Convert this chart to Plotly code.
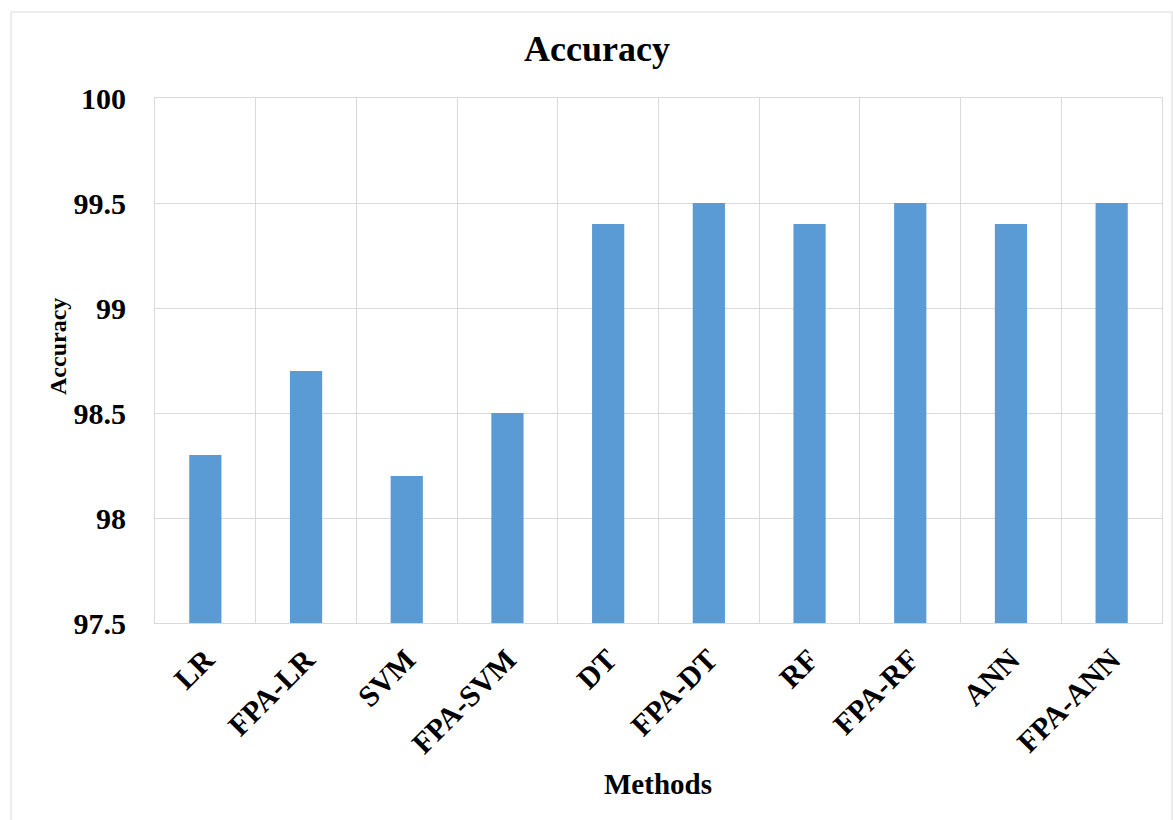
import plotly.graph_objects as go

# Classification accuracy per method
methods = ["LR", "FPA-LR", "SVM", "FPA-SVM", "DT", "FPA-DT", "RF", "FPA-RF", "ANN", "FPA-ANN"]
accuracy = [98.3, 98.7, 98.2, 98.5, 99.4, 99.5, 99.4, 99.5, 99.4, 99.5]
y_ticks = [97.5, 98, 98.5, 99, 99.5, 100]
y_tick_text = ["97.5", "98", "98.5", "99", "99.5", "100"]

FONT = "Liberation Serif, Times New Roman, serif"
GRID = "#d9d9d9"
BAR = "#5b9bd5"

W, H = 1173, 820
L, R, T, B = 155, 11, 98, 197
pw, ph = W - L - R, H - T - B

fig = go.Figure(
    go.Bar(
        x=methods,
        y=accuracy,
        marker=dict(color=BAR, line=dict(width=0)),
    )
)

fig.update_layout(
    width=W,
    height=H,
    margin=dict(l=L, r=R, t=T, b=B, pad=0),
    paper_bgcolor="white",
    plot_bgcolor="white",
    bargap=0.68,
    showlegend=False,
    font=dict(family=FONT, color="black"),
    title=dict(
        text="<b>Accuracy</b>",
        font=dict(family=FONT, size=36, color="black"),
        x=597 / W,
        xref="container",
        xanchor="center",
        y=1 - 48 / H,
        yref="container",
        yanchor="middle",
    ),
)

fig.update_xaxes(
    type="category",
    tickson="boundaries",
    showgrid=True,
    gridcolor=GRID,
    gridwidth=1,
    showline=True,
    linecolor=GRID,
    linewidth=1,
    mirror=True,
    ticks="",
    tickangle=-45,
    tickfont=dict(family=FONT, size=30, color="black"),
    ticklabelstandoff=6,
    tickprefix="<b>",
    ticksuffix="</b>",
)

fig.update_yaxes(
    range=[97.5, 100],
    tickvals=y_ticks,
    ticktext=["<b>" + t + "</b>" for t in y_tick_text],
    showgrid=True,
    gridcolor=GRID,
    gridwidth=1,
    zeroline=False,
    showline=True,
    linecolor=GRID,
    linewidth=1,
    mirror=True,
    ticks="",
    tickfont=dict(family=FONT, size=30, color="black"),
    ticklabelstandoff=22,
)

# Axis titles
fig.add_annotation(
    text="<b>Accuracy</b>",
    xref="paper", yref="paper",
    x=(58 - L) / pw, y=(T + ph - 347) / ph,
    textangle=-90,
    showarrow=False,
    xanchor="center", yanchor="middle",
    font=dict(family=FONT, size=24, color="black"),
)
fig.add_annotation(
    text="<b>Methods</b>",
    xref="paper", yref="paper",
    x=(658 - L) / pw, y=(T + ph - 784) / ph,
    showarrow=False,
    xanchor="center", yanchor="middle",
    font=dict(family=FONT, size=29, color="black"),
)

# Chart frame
fig.add_shape(
    type="rect",
    xref="paper", yref="paper",
    x0=(11 - L) / pw, x1=(1172 - L) / pw,
    y0=(T + ph - 840) / ph, y1=(T + ph - 12) / ph,
    line=dict(color=GRID, width=1),
    fillcolor="rgba(0,0,0,0)",
    layer="below",
)

fig.write_html("out.html")
